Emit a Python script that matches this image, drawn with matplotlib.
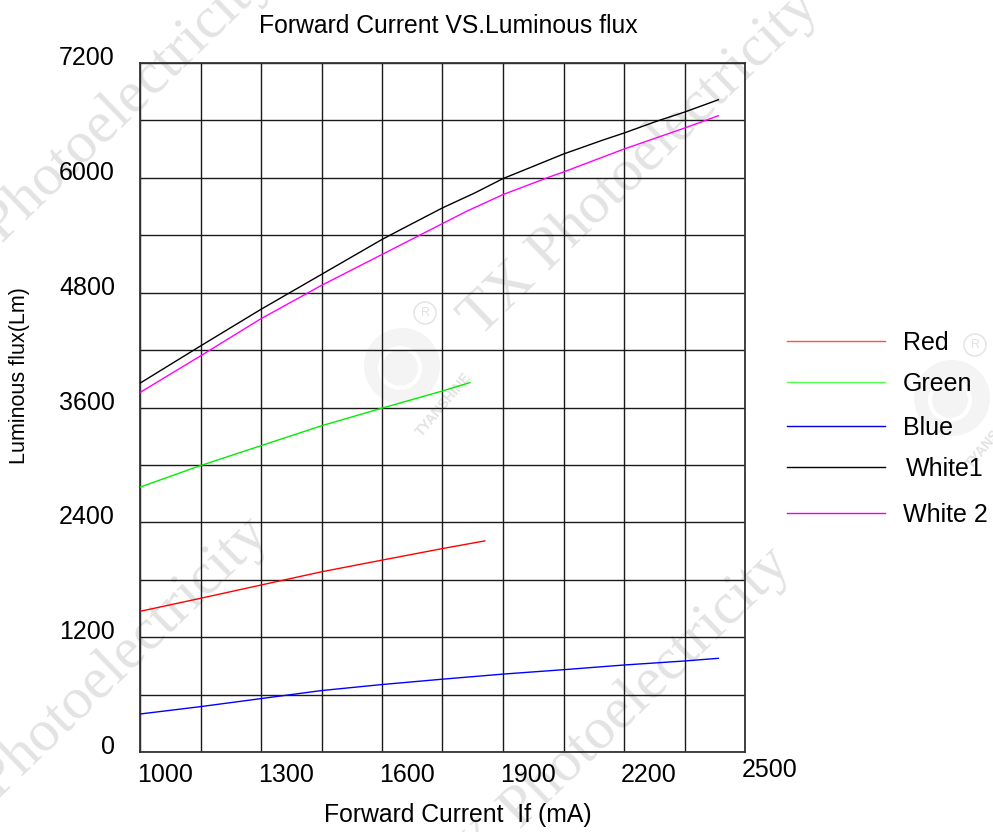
import numpy as np
import matplotlib
matplotlib.use("Agg")
import matplotlib.pyplot as plt
import matplotlib.transforms as mtransforms
from matplotlib.lines import Line2D
from matplotlib.patches import Circle

plt.rcParams['font.family'] = ['Liberation Sans', 'DejaVu Sans']

# forward current (mA) vs luminous flux (lm) for each chip colour
current_red = [1000, 1150, 1300, 1450, 1600, 1750, 1855]
flux_red = [1470, 1606, 1745, 1883, 2005, 2126, 2206]

current_green = [1000, 1150, 1300, 1450, 1600, 1750, 1818]
flux_green = [2768, 2993, 3201, 3409, 3593, 3773, 3860]

current_blue = [1000, 1150, 1300, 1450, 1600, 1750, 1900, 2050, 2200, 2350, 2434]
flux_blue = [397, 474, 558, 642, 705, 761, 814, 860, 909, 951, 979]

current_white1 = [1000, 1150, 1300, 1450, 1600, 1650, 1750, 1830, 1900,
                  1965, 2050, 2150, 2200, 2280, 2350, 2434]
flux_white1 = [3854, 4243, 4626, 4991, 5356, 5467, 5686, 5842, 5992,
               6103, 6249, 6398, 6468, 6590, 6687, 6816]

current_white2 = [1000, 1150, 1300, 1450, 1600, 1750, 1810, 1900, 2015, 2050,
                  2200, 2350, 2434]
flux_white2 = [3757, 4139, 4528, 4876, 5199, 5522, 5651, 5825, 6009, 6061,
               6301, 6520, 6649]

names = ["Red", "Green", "Blue", "White1", "White 2"]
colors = ["#ff0000", "#00ee00", "#0000ff", "#000000", "#ff00ff"]
legend_colors = ["#ff5050", "#50ff50", "#0000dd", "#000000", "#ee00ee"]
series = [(current_red, flux_red), (current_green, flux_green),
          (current_blue, flux_blue), (current_white1, flux_white1),
          (current_white2, flux_white2)]

x_ticks = [1000, 1300, 1600, 1900, 2200, 2500]
y_ticks = [0, 1200, 2400, 3600, 4800, 6000, 7200]

W, H = 993, 832
fig = plt.figure(figsize=(W / 100, H / 100), dpi=100)
inch = fig.dpi_scale_trans


def at(x, y):
    # pixel position measured from the top-left corner -> inches
    return x / 100, (H - y) / 100


# faint watermark tiles behind the chart
wm = '#e3e3e3'
for x0, y0 in [(-66, 310), (480, 338), (-70, 866), (452, 896)]:
    fig.text(*at(x0, y0), "TX Photoelectricity", transform=inch, rotation=44,
             rotation_mode='anchor', ha='left', va='baseline', fontsize=43,
             family='Liberation Serif', color=wm, zorder=-5)
for cx, cy in [(402, 366), (952, 398)]:
    fig.add_artist(Circle(at(cx, cy), 0.38, transform=inch, facecolor='#f4f4f4',
                          edgecolor='none', zorder=-6))
    fig.add_artist(Circle(at(cx - 2, cy + 2), 0.20, transform=inch, facecolor='none',
                          edgecolor='#ffffff', lw=3, zorder=-5))
    fig.add_artist(Circle(at(cx + 23, cy - 53), 0.11, transform=inch, facecolor='none',
                          edgecolor='#e6e6e6', lw=1.2, zorder=-5))
    fig.text(*at(cx + 23, cy - 53), "R", transform=inch, ha='center', va='center',
             fontsize=9, color='#e2e2e2', zorder=-5)
    fig.text(*at(cx + 42, cy + 38), "TYANSHINE", transform=inch, rotation=50,
             rotation_mode='anchor', ha='center', va='center', fontsize=10,
             fontweight='bold', color='#e2e2e2', zorder=-5)

ax = fig.add_axes([140 / W, 1 - 752 / H, 605 / W, 689 / H])
ax.set_facecolor('none')

for (xs, ys), c in zip(series, colors):
    ax.plot(xs, ys, color=c, lw=1.0, zorder=3)

ax.set_xlim(1000, 2500)
ax.set_ylim(0, 7200)
ax.set_xticks(np.arange(1000, 2501, 150))
ax.set_yticks(np.arange(0, 7201, 600))
ax.grid(True, color='#1a1a1a', lw=1.0)
ax.tick_params(length=0, labelbottom=False, labelleft=False)
for sp in ax.spines.values():
    sp.set_color('#333333')
    sp.set_linewidth(1.3)

# tick labels sit beside the grid lines rather than centred on them
ytr = mtransforms.offset_copy(ax.get_yaxis_transform(), fig, x=-25, y=-2, units='dots')
for v in y_ticks:
    ax.text(0, v, str(v), transform=ytr, ha='right', va='baseline', fontsize=18)
for v in x_ticks:
    dy = -6 if v == x_ticks[-1] else -11
    xtr = mtransforms.offset_copy(ax.get_xaxis_transform(), fig, x=-3, y=dy, units='dots')
    ax.text(v, 0, str(v), transform=xtr, ha='left', va='top', fontsize=18)

fig.text(*at(448, 33), "Forward Current VS.Luminous flux", transform=inch,
         ha='center', va='baseline', fontsize=17.8)
fig.text(*at(458, 822), "Forward Current  If (mA)", transform=inch,
         ha='center', va='baseline', fontsize=17.8)
fig.text(*at(20, 376), "Luminous flux(Lm)", transform=inch, rotation=90,
         ha='center', va='center', fontsize=15.5)

# legend drawn by hand to the right of the plot
legend_rows = [341, 382, 426, 467, 513]
for name, c, ry in zip(names, legend_colors, legend_rows):
    (x1, y1), (x2, _) = at(787, ry), at(885, ry)
    fig.add_artist(Line2D([x1, x2], [y1, y1], transform=inch, color=c, lw=1.0))
    tx = 906 if name == "White1" else 903
    fig.text(*at(tx, ry + 2), name, transform=inch, ha='left', va='center',
             fontsize=18)

fig.savefig("out.png", dpi=100, facecolor='white')
